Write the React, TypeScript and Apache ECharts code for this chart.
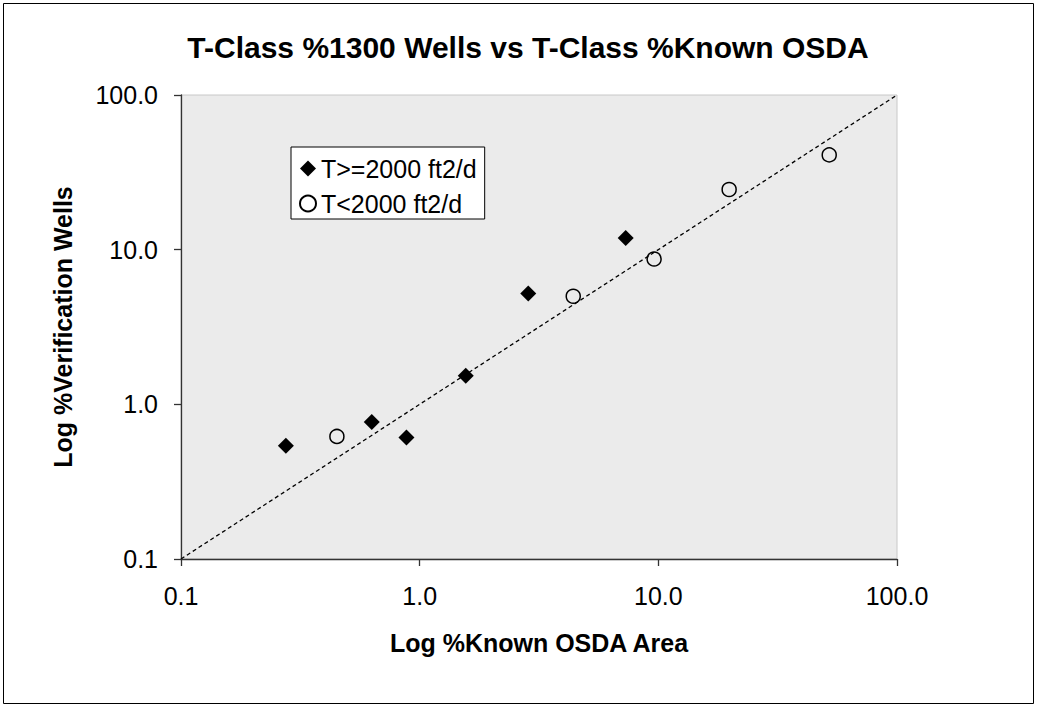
import React, { useEffect, useRef } from "react";
import * as echarts from "echarts";

const FONT = "'Liberation Sans', Arial, sans-serif";

const titleText = "T-Class %1300 Wells vs T-Class %Known OSDA";
const xAxisName = "Log %Known OSDA Area";
const yAxisName = "Log %Verification Wells";
const seriesNames = ["T>=2000 ft2/d", "T<2000 ft2/d"];

// T>=2000 ft2/d (filled diamonds)
const highX = [0.275, 0.63, 0.88, 1.56, 2.85, 7.3];
const highY = [0.54, 0.77, 0.61, 1.53, 5.2, 11.9];
// T<2000 ft2/d (open circles)
const lowX = [0.45, 4.4, 9.6, 19.8, 52];
const lowY = [0.62, 5.0, 8.7, 24.5, 41];
// 1:1 reference line
const lineX = [0.1, 100];
const lineY = [0.1, 100];
// axis range
const axisMin = 0.1;
const axisMax = 100;

export default function App() {
  const ref = useRef<HTMLDivElement>(null);
  useEffect(() => {
    document.body.style.margin = "0";
    const chart = echarts.init(ref.current!, undefined, { renderer: "svg" });
    const zip = (xs: number[], ys: number[]) => xs.map((x, i) => [x, ys[i]]);
    const fmt = (v: number) => Number(v).toFixed(1);
    chart.setOption({
      animation: false,
      backgroundColor: "#fff",
      title: {
        text: titleText,
        left: 523,
        textAlign: "center",
        top: 27,
        textStyle: { fontFamily: FONT, fontSize: 30, fontWeight: "bold", color: "#000" },
      },
      graphic: [
        {
          type: "rect",
          shape: { x: 3.5, y: 3.5, width: 1030, height: 700 },
          style: { fill: "none", stroke: "#000", lineWidth: 1 },
          silent: true,
        },
      ],
      grid: {
        left: 181,
        top: 95,
        width: 716,
        height: 464,
        show: true,
        backgroundColor: "#EBEBEB",
        borderColor: "#C8C8C8",
        borderWidth: 1,
      },
      legend: {
        orient: "vertical",
        left: 291,
        top: 147,
        data: [
          { name: seriesNames[0], icon: "diamond" },
          { name: seriesNames[1], icon: "circle" },
        ],
        itemWidth: 16,
        itemHeight: 16,
        itemGap: 10,
        padding: [9, 8, 3, 8],
        borderColor: "#000",
        borderWidth: 1,
        backgroundColor: "#fff",
        textStyle: { fontFamily: FONT, fontSize: 25, color: "#000", lineHeight: 25 },
      },
      xAxis: {
        type: "log",
        logBase: 10,
        min: axisMin,
        max: axisMax,
        name: xAxisName,
        nameLocation: "middle",
        nameGap: 71,
        nameTextStyle: { fontFamily: FONT, fontSize: 25, fontWeight: "bold", color: "#000" },
        axisLine: { show: true, lineStyle: { color: "#333", width: 1.3 } },
        axisTick: { show: true, length: 7, lineStyle: { color: "#333", width: 1.3 } },
        minorTick: { show: false },
        splitLine: { show: false },
        axisLabel: {
          formatter: fmt,
          margin: 24,
          fontFamily: FONT,
          fontSize: 25,
          color: "#000",
        },
      },
      yAxis: {
        type: "log",
        logBase: 10,
        min: axisMin,
        max: axisMax,
        name: yAxisName,
        nameLocation: "middle",
        nameGap: 106,
        nameTextStyle: { fontFamily: FONT, fontSize: 25, fontWeight: "bold", color: "#000" },
        axisLine: { show: true, lineStyle: { color: "#333", width: 1.3 } },
        axisTick: { show: true, length: 7, lineStyle: { color: "#333", width: 1.3 } },
        splitLine: { show: false },
        axisLabel: {
          formatter: fmt,
          margin: 23,
          fontFamily: FONT,
          fontSize: 25,
          color: "#000",
        },
      },
      series: [
        {
          name: "trend",
          type: "line",
          data: zip(lineX, lineY),
          showSymbol: false,
          symbol: "none",
          silent: true,
          lineStyle: { color: "#000", width: 1.3, type: [4, 3] },
          z: 1,
        },
        {
          name: seriesNames[0],
          type: "scatter",
          symbol: "diamond",
          symbolSize: 16,
          data: zip(highX, highY),
          itemStyle: { color: "#000", opacity: 1 },
          z: 3,
        },
        {
          name: seriesNames[1],
          type: "scatter",
          symbol: "circle",
          symbolSize: 14,
          data: zip(lowX, lowY),
          itemStyle: { color: "rgba(0,0,0,0)", borderColor: "#000", borderWidth: 1.5, opacity: 1 },
          z: 3,
        },
      ],
    });
    return () => chart.dispose();
  }, []);
  return <div ref={ref} style={{ width: 1037, height: 708 }} />;
}
